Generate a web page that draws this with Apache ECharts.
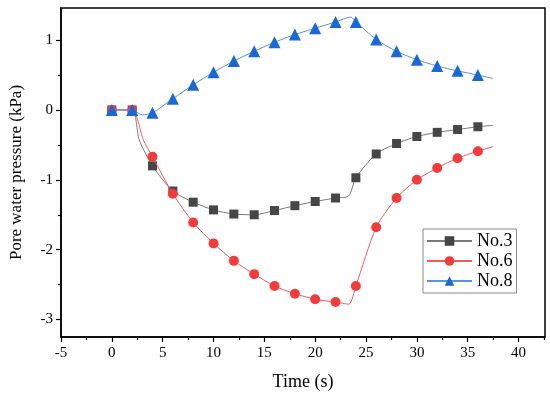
<!DOCTYPE html>
<html><head><meta charset="utf-8">
<script src="https://cdn.jsdelivr.net/npm/echarts@6/dist/echarts.min.js"></script>
<style>html,body{margin:0;padding:0;background:#fff}#c{width:550px;height:398px}</style>
</head><body><div id="c"></div>
<script>
// Data
const seriesNames = ['No.3', 'No.6', 'No.8'];
const xTicks = [-5, 0, 5, 10, 15, 20, 25, 30, 35, 40];
const yTicks = [-3, -2, -1, 0, 1];
// [time, value, marked(1) or curve-only(0)]
const no3 = [[0,0,1],[2,0,1],[2.7,-0.43,0],[4,-0.80,1],[6,-1.16,1],[8,-1.32,1],[10,-1.43,1],[12,-1.49,1],[14,-1.50,1],[16,-1.44,1],[18,-1.37,1],[20,-1.31,1],[22,-1.26,1],[23.3,-1.23,0],[24,-0.97,1],[26,-0.63,1],[28,-0.48,1],[30,-0.38,1],[32,-0.32,1],[34,-0.28,1],[36,-0.24,1],[37.5,-0.22,0]];
const no6 = [[0,0,1],[2,0,1],[3.1,-0.43,0],[4,-0.67,1],[6,-1.20,1],[8,-1.61,1],[10,-1.91,1],[12,-2.16,1],[14,-2.35,1],[16,-2.52,1],[18,-2.63,1],[20,-2.71,1],[22,-2.75,1],[23.3,-2.78,0],[24,-2.52,1],[26,-1.68,1],[28,-1.26,1],[30,-1.00,1],[32,-0.83,1],[34,-0.69,1],[36,-0.59,1],[37.5,-0.525,0]];
const no8 = [[0,0,1],[2,0,1],[3,-0.07,0],[4,-0.04,1],[6,0.16,1],[8,0.36,1],[10,0.54,1],[12,0.70,1],[14,0.84,1],[16,0.97,1],[18,1.08,1],[20,1.17,1],[22,1.26,1],[23.5,1.33,0],[24,1.26,1],[26,1.01,1],[28,0.84,1],[30,0.72,1],[32,0.63,1],[34,0.56,1],[36,0.50,1],[37.5,0.45,0]];

const XMIN = -5, XMAX = 42.6, YMIN = -3.25, YMAX = 1.46;
const xMinor = xTicks.map(v => v + 2.5).filter(v => v < XMAX);
const yMinor = [-2.5, -1.5, -0.5, 0.5];
const font = 'Liberation Serif';

function toData(arr) {
  return arr.map(p => p[2] ? [p[0], p[1]] : {value: [p[0], p[1]], symbol: 'none'});
}
const styles = [
  {sym: 'rect', size: 9, mark: '#464646', line: '#7a7a7a'},
  {sym: 'circle', size: 10, mark: '#f23c3c', line: '#f25a5a'},
  {sym: 'triangle', size: 12, mark: '#1a68d8', line: '#5a92e0'}
];
const datas = [no3, no6, no8];

const chart = echarts.init(document.getElementById('c'), null, {renderer: 'canvas'});
chart.setOption({
  animation: false,
  backgroundColor: '#fff',
  grid: {left: 60, right: 5, top: 8, bottom: 61, show: true, borderColor: '#000', borderWidth: 1.5, backgroundColor: 'transparent'},
  xAxis: [{
    type: 'value', min: XMIN, max: XMAX,
    name: 'Time (s)', nameLocation: 'middle', nameGap: 36,
    nameTextStyle: {fontFamily: font, fontSize: 18, color: '#000'},
    axisLine: {show: true, onZero: false, lineStyle: {color: '#000', width: 1.5}},
    axisTick: {show: true, inside: false, length: 5, customValues: xTicks, lineStyle: {color: '#000', width: 1.2}},
    axisLabel: {customValues: xTicks, fontFamily: font, fontSize: 15, color: '#000', margin: 9},
    splitLine: {show: false}
  }, {
    type: 'value', min: XMIN, max: XMAX, position: 'bottom',
    axisLine: {show: false, onZero: false}, axisLabel: {show: false}, splitLine: {show: false},
    axisTick: {show: true, length: 3, customValues: xMinor, lineStyle: {color: '#000', width: 1.2}}
  }],
  yAxis: [{
    type: 'value', min: YMIN, max: YMAX,
    name: 'Pore water pressure (kPa)', nameLocation: 'middle', nameGap: 36,
    nameTextStyle: {fontFamily: font, fontSize: 17, color: '#000'},
    axisLine: {show: true, onZero: false, lineStyle: {color: '#000', width: 1.5}},
    axisTick: {show: true, length: 5, customValues: yTicks, lineStyle: {color: '#000', width: 1.2}},
    axisLabel: {customValues: yTicks, fontFamily: font, fontSize: 15, color: '#000', margin: 8},
    splitLine: {show: false}
  }, {
    type: 'value', min: YMIN, max: YMAX, position: 'left',
    axisLine: {show: false, onZero: false}, axisLabel: {show: false}, splitLine: {show: false},
    axisTick: {show: true, length: 3, customValues: yMinor, lineStyle: {color: '#000', width: 1.2}}
  }],
  legend: {
    orient: 'vertical', left: 423, top: 229,
    backgroundColor: '#fff', borderColor: '#888', borderWidth: 1,
    padding: [3, 4, 3, 3], itemWidth: 45, itemHeight: 12, itemGap: 2,
    textStyle: {fontFamily: font, fontSize: 18, lineHeight: 18, color: '#000'},
    data: seriesNames
  },
  series: seriesNames.map((n, i) => ({
    name: n, type: 'line', xAxisIndex: 0, yAxisIndex: 0,
    data: toData(datas[i]),
    smooth: 0.25,
    symbol: styles[i].sym, symbolSize: styles[i].size, showAllSymbol: true,
    itemStyle: {color: styles[i].mark},
    lineStyle: {color: styles[i].line, width: 1},
    z: 2 + i
  }))
});
</script></body></html>
